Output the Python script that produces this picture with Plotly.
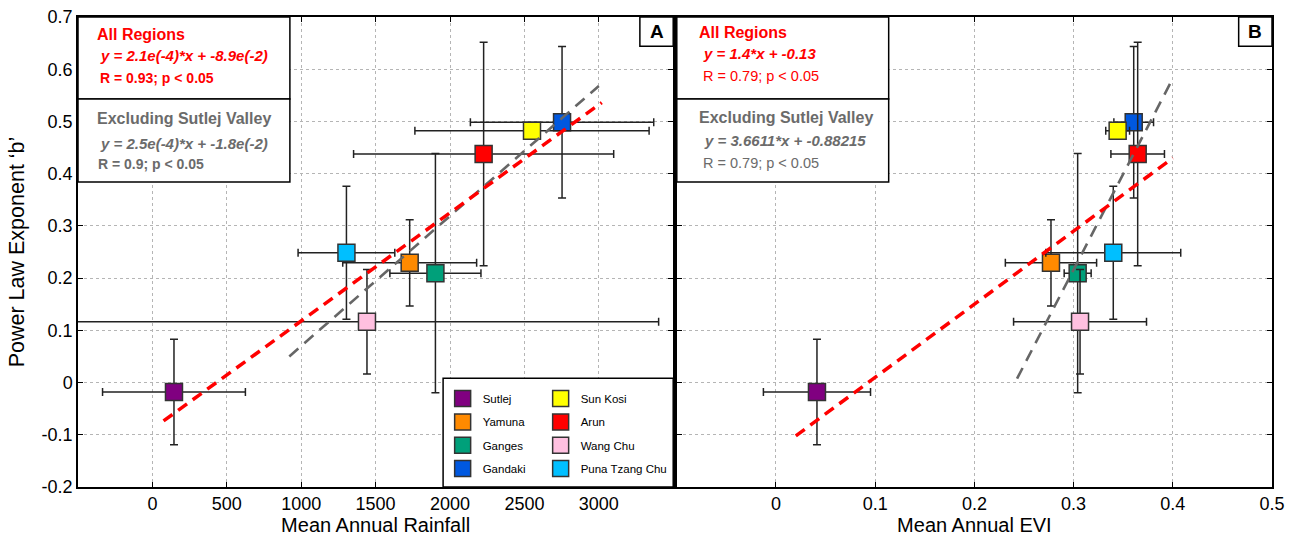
import plotly.graph_objects as go

# ---------------- data ----------------
regions = ["Sutlej", "Yamuna", "Ganges", "Gandaki", "Sun Kosi", "Arun", "Wang Chu", "Puna Tzang Chu"]
colors = ["#800080", "#ff8a00", "#00a07a", "#0058e0", "#ffff00", "#ff0000", "#ffc0e0", "#00bfff"]
rainfall = [145, 1729, 1902, 2753, 2551, 2226, 1442, 1304]
rainfall_err = [480, 450, 306, 616, 787, 874, 1960, 325]
evi = [0.0413, 0.2772, 0.3041, 0.3606, 0.3444, 0.3646, 0.3065, 0.340]
evi_err = [0.054, 0.046, 0.0136, 0.020, 0.012, 0.027, 0.067, 0.068]
b_exp = [-0.0182, 0.2293, 0.2095, 0.4983, 0.4824, 0.4378, 0.1165, 0.2485]
b_err = [0.101, 0.0825, 0.229, 0.145, 0.0, 0.214, 0.100, 0.1275]

# regression fits: (slope, intercept, x_start, x_end)
rain_fit_all = (2.07e-4, -0.089, 75, 3020)
rain_fit_excl = (2.49e-4, -0.179, 920, 3000)
evi_fit_all = (1.4, -0.13, 0.02, 0.40)
evi_fit_excl = (3.6611, -0.88215, 0.243, 0.40)

rain_ticks = [0, 500, 1000, 1500, 2000, 2500, 3000]
evi_ticks = [0, 0.1, 0.2, 0.3, 0.4, 0.5]
y_ticks = [-0.2, -0.1, 0, 0.1, 0.2, 0.3, 0.4, 0.5, 0.6, 0.7]
y_ticktext = ["-0.2", "-0.1", "0", "0.1", "0.2", "0.3", "0.4", "0.5", "0.6", "0.7"]

# legend layout: row legend for each region, second column flagged
legend_rows = {"Sutlej": "legend", "Sun Kosi": "legend",
               "Yamuna": "legend2", "Arun": "legend2",
               "Ganges": "legend3", "Wang Chu": "legend3",
               "Gandaki": "legend4", "Puna Tzang Chu": "legend4"}
second_col = {"Sun Kosi", "Arun", "Wang Chu", "Puna Tzang Chu"}

FONT = "Liberation Sans, Arial, Helvetica, sans-serif"
RED = "#ff0000"
GRAY = "#6b6b6b"

fig = go.Figure()

marker_line = dict(color="#333333", width=1.5)
err_style = dict(color="#222222", thickness=1.5, width=4)

for i, name in enumerate(regions):
    fig.add_trace(go.Scatter(
        x=[rainfall[i]], y=[b_exp[i]], mode="markers", name=name,
        marker=dict(symbol="square", size=17, color=colors[i], line=marker_line),
        error_x=dict(type="data", array=[rainfall_err[i]], **err_style),
        error_y=dict(type="data", array=[b_err[i]], **err_style),
        xaxis="x", yaxis="y", legend=legend_rows[name], showlegend=True,
        legendwidth=(130 if name in second_col else 53),
    ))
for i, name in enumerate(regions):
    fig.add_trace(go.Scatter(
        x=[evi[i]], y=[b_exp[i]], mode="markers", name=name,
        marker=dict(symbol="square", size=17, color=colors[i], line=marker_line),
        error_x=dict(type="data", array=[evi_err[i]], **err_style),
        error_y=dict(type="data", array=[b_err[i]], **err_style),
        xaxis="x2", yaxis="y2", showlegend=False,
    ))


def fit_line(fit, xa, ya, color, width, dash):
    m, c, x0, x1 = fit
    xs = [x0, x1]
    ys = [m * v + c for v in xs]
    fig.add_trace(go.Scatter(x=xs, y=ys, mode="lines", showlegend=False,
                             line=dict(color=color, width=width, dash=dash),
                             xaxis=xa, yaxis=ya, hoverinfo="skip"))


fit_line(rain_fit_excl, "x", "y", "#666666", 2.6, "12px,8px")
fit_line(rain_fit_all, "x", "y", RED, 3.5, "11px,7px")
fit_line(evi_fit_excl, "x2", "y2", "#666666", 2.6, "12px,8px")
fit_line(evi_fit_all, "x2", "y2", RED, 3.5, "11px,7px")

axis_common = dict(
    showline=True, linecolor="black", linewidth=1.5, mirror="ticks",
    ticks="inside", ticklen=5, tickwidth=1.2, tickcolor="black",
    showgrid=True, gridcolor="#b5b5b5", griddash="dot", gridwidth=1,
    zeroline=False, automargin=False,
    tickfont=dict(family=FONT, size=18, color="black"),
)

fig.update_layout(
    width=1294, height=537,
    margin=dict(l=78, r=22, t=17, b=50, autoexpand=False),
    paper_bgcolor="white", plot_bgcolor="white",
    font=dict(family=FONT, color="black"),
    xaxis=dict(domain=[0, 0.4985], range=[-500, 3500], tickvals=rain_ticks,
               title=dict(text="Mean Annual Rainfall", font=dict(size=20), standoff=3),
               **axis_common),
    xaxis2=dict(domain=[0.5015, 1], range=[-0.1, 0.5], tickvals=evi_ticks,
                ticktext=[str(v) for v in evi_ticks],
                title=dict(text="Mean Annual EVI", font=dict(size=20), standoff=3),
                anchor="y2", **axis_common),
    yaxis=dict(range=[-0.2, 0.7], tickvals=y_ticks, ticktext=y_ticktext,
               title=dict(text="Power Law Exponent \u2018b\u2019", font=dict(size=21.5), standoff=11),
               anchor="x", **axis_common),
    yaxis2=dict(range=[-0.2, 0.7], tickvals=y_ticks, showticklabels=False,
                anchor="x2", matches="y", **axis_common),
)

legend_common = dict(orientation="h", x=0.3054, xanchor="left", yanchor="middle",
                     bgcolor="rgba(0,0,0,0)", borderwidth=0,
                     entrywidthmode="pixels",
                     font=dict(family=FONT, size=11.5, color="black"),
                     itemclick=False, itemdoubleclick=False)
row_y = {"legend": 0.1883, "legend2": 0.1385, "legend3": 0.0887, "legend4": 0.0391}
fig.update_layout(
    legend=dict(y=row_y["legend"], **legend_common),
    legend2=dict(y=row_y["legend2"], **legend_common),
    legend3=dict(y=row_y["legend3"], **legend_common),
    legend4=dict(y=row_y["legend4"], **legend_common),
)

box_line = dict(color="black", width=1.5)
shapes = []
for xr, yr in (("x domain", "y domain"), ("x2 domain", "y2 domain")):
    shapes.append(dict(type="rect", xref=xr, yref=yr, x0=0, x1=0.356, y0=0.8255, y1=1,
                       line=box_line, fillcolor="white", layer="above"))
    shapes.append(dict(type="rect", xref=xr, yref=yr, x0=0, x1=0.356, y0=0.649, y1=0.8255,
                       line=box_line, fillcolor="white", layer="above"))
    shapes.append(dict(type="rect", xref=xr, yref=yr, x0=0.944, x1=1, y0=0.938, y1=1,
                       line=box_line, fillcolor="white", layer="above"))
# legend frame
shapes.append(dict(type="rect", xref="x domain", yref="y domain", x0=0.6134, x1=1.0,
                   y0=0, y1=0.2313, line=box_line, fillcolor="white", layer="above"))
fig.update_layout(shapes=shapes)

ann = []


def txt(xr, yr, x, y, text, color, size, bold=True, italic=False):
    s = text
    if italic:
        s = "<i>" + s + "</i>"
    if bold:
        s = "<b>" + s + "</b>"
    ann.append(dict(xref=xr, yref=yr, x=x, y=y, text=s, showarrow=False,
                    xanchor="left", yanchor="middle",
                    font=dict(family=FONT, size=size, color=color)))


# Panel A
txt("x domain", "y domain", 0.029, 0.9638, "All Regions", RED, 16)
txt("x domain", "y domain", 0.034, 0.9191, "y = 2.1e(-4)*x + -8.9e(-2)", RED, 15, italic=True)
txt("x domain", "y domain", 0.033, 0.8702, "R = 0.93; p < 0.05", RED, 14)
txt("x domain", "y domain", 0.029, 0.7851, "Excluding Sutlej Valley", GRAY, 16)
txt("x domain", "y domain", 0.034, 0.7319, "y = 2.5e(-4)*x + -1.8e(-2)", GRAY, 15, italic=True)
txt("x domain", "y domain", 0.031, 0.6872, "R = 0.9; p < 0.05", GRAY, 14)
# Panel B
txt("x2 domain", "y2 domain", 0.034, 0.968, "All Regions", RED, 16)
txt("x2 domain", "y2 domain", 0.040, 0.9234, "y = 1.4*x + -0.13", RED, 15, italic=True)
txt("x2 domain", "y2 domain", 0.041, 0.8745, "R = 0.79; p < 0.05", RED, 14.5, bold=False)
txt("x2 domain", "y2 domain", 0.034, 0.7872, "Excluding Sutlej Valley", GRAY, 16)
txt("x2 domain", "y2 domain", 0.043, 0.7362, "y = 3.6611*x + -0.88215", GRAY, 15, italic=True)
txt("x2 domain", "y2 domain", 0.041, 0.6894, "R = 0.79; p < 0.05", GRAY, 14.5, bold=False)

for xr, yr, lab in (("x domain", "y domain", "A"), ("x2 domain", "y2 domain", "B")):
    ann.append(dict(xref=xr, yref=yr, x=0.972, y=0.969, text="<b>" + lab + "</b>",
                    showarrow=False, xanchor="center", yanchor="middle",
                    font=dict(family=FONT, size=19, color="black")))
fig.update_layout(annotations=ann)

fig.write_html("out.html", config={"displayModeBar": False},
               post_script="document.body.style.margin='0px';")
